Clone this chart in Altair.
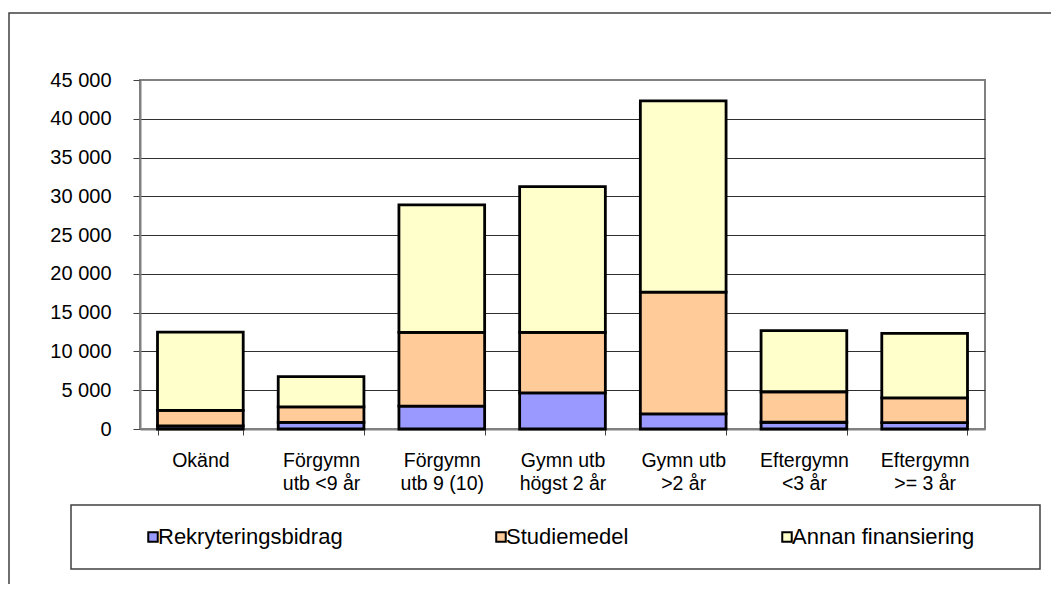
import altair as alt
import pandas as pd

categories = ["Okänd", "Förgymn\nutb <9 år", "Förgymn\nutb 9 (10)", "Gymn utb\nhögst 2 år",
              "Gymn utb\n>2 år", "Eftergymn\n<3 år", "Eftergymn\n>= 3 år"]
series = ["Rekryteringsbidrag", "Studiemedel", "Annan finansiering"]
rekryteringsbidrag = [400, 850, 2950, 4650, 1950, 870, 820]
studiemedel = [2000, 2000, 9500, 7810, 15700, 3930, 3200]
annan_finansiering = [10100, 3900, 16450, 18780, 24670, 7880, 8310]
y_ticks = [0, 5000, 10000, 15000, 20000, 25000, 30000, 35000, 40000, 45000]
colors = ["#9999FF", "#FFCC99", "#FFFFCC"]

rows = []
for i, cat in enumerate(categories):
    for j, (name, vals) in enumerate(zip(series, [rekryteringsbidrag, studiemedel, annan_finansiering])):
        rows.append({"kategori": cat, "serie": name, "varde": vals[i], "ordning": j})
df = pd.DataFrame(rows)

FONT = "Liberation Sans"

bars = alt.Chart(df).mark_bar(stroke="black", strokeWidth=2.8, strokeJoin="miter").encode(
    x=alt.X("kategori:N", sort=categories,
            scale=alt.Scale(paddingInner=0.29, paddingOuter=0.145),
            axis=alt.Axis(title=None, labelAngle=0, labelExpr="split(datum.label, '\\n')",
                          tickBand="extent", tickSize=6, tickColor="#404040", labelPadding=16,
                          labelLineHeight=23, labelFontSize=19.5, labelFont=FONT, labelColor="black",
                          domainColor="#808080", domainWidth=2)),
    y=alt.Y("varde:Q", stack="zero",
            scale=alt.Scale(domain=[0, 45000], nice=False),
            axis=alt.Axis(title=None, values=y_ticks,
                          labelExpr="replace(format(datum.value, ','), ',', ' ')",
                          tickSize=7, tickColor="#404040", labelPadding=22,
                          labelFontSize=20, labelFont=FONT, labelColor="black",
                          domainColor="#808080", domainWidth=2,
                          gridColor={"condition": {"test": "datum.value === 45000 || datum.value === 0",
                                                   "value": "#808080"}, "value": "#303030"},
                          gridWidth=1)),
    color=alt.Color("serie:N", scale=alt.Scale(domain=series, range=colors),
                    legend=alt.Legend(title=None, orient="none", direction="horizontal",
                                      legendX=2, legendY=446, columnPadding=147,
                                      symbolType="square", symbolSize=90,
                                      symbolStrokeColor="black", symbolStrokeWidth=2,
                                      symbolOpacity=1, labelLimit=500,
                                      labelFontSize=22, labelFont=FONT, labelColor="black",
                                      labelOffset={"expr": "-6"})),
    order=alt.Order("ordning:Q"),
)

frame = alt.Chart(alt.Data(values=[{}])).mark_rect(filled=False, stroke="#404040", strokeWidth=1.5).encode(
    x=alt.value(-131), x2=alt.value(1200), y=alt.value(-67), y2=alt.value(700)
)
legend_box = alt.Chart(alt.Data(values=[{}])).mark_rect(filled=False, stroke="#404040", strokeWidth=1.5).encode(
    x=alt.value(-69), x2=alt.value(900), y=alt.value(425), y2=alt.value(489)
)

chart = alt.layer(frame, legend_box, bars).properties(
    width=845, height=349,
    autosize=alt.AutoSizeParams(type="none"),
    padding={"left": 132, "top": 72, "right": 66, "bottom": 155},
).configure_view(stroke="#808080", strokeWidth=2)

chart.save("out.html", embed_options={"renderer": "svg", "actions": False})
